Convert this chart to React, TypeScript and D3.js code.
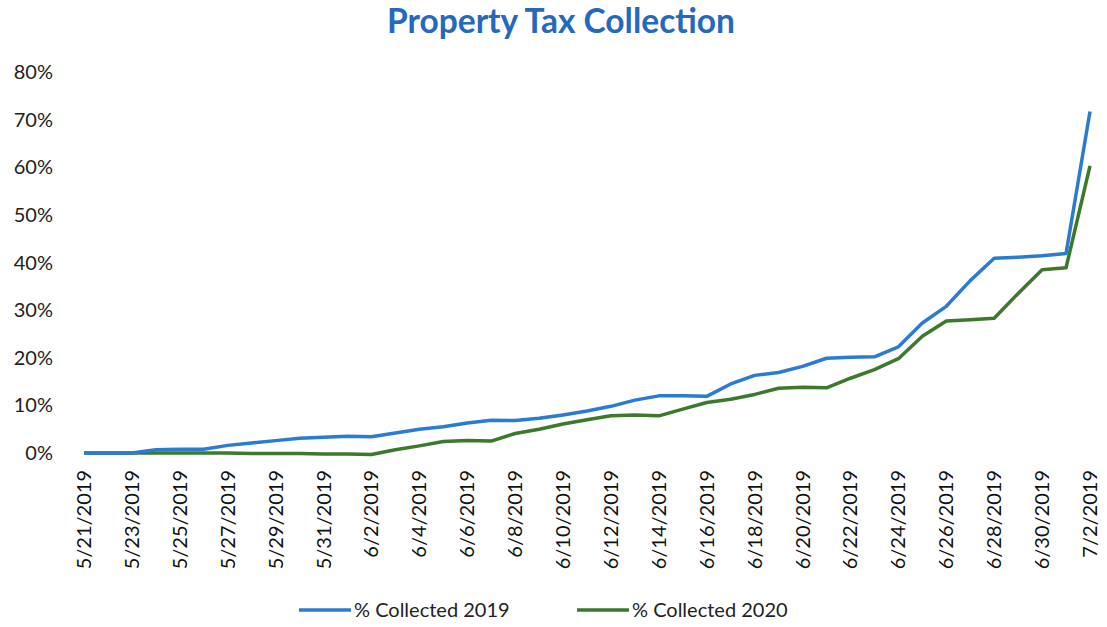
import React from "react";
import * as d3 from "d3";

const dates = [
  "5/21/2019","5/22/2019","5/23/2019","5/24/2019","5/25/2019","5/26/2019","5/27/2019","5/28/2019","5/29/2019","5/30/2019","5/31/2019",
  "6/1/2019","6/2/2019","6/3/2019","6/4/2019","6/5/2019","6/6/2019","6/7/2019","6/8/2019","6/9/2019","6/10/2019",
  "6/11/2019","6/12/2019","6/13/2019","6/14/2019","6/15/2019","6/16/2019","6/17/2019","6/18/2019","6/19/2019","6/20/2019",
  "6/21/2019","6/22/2019","6/23/2019","6/24/2019","6/25/2019","6/26/2019","6/27/2019","6/28/2019","6/29/2019","6/30/2019",
  "7/1/2019","7/2/2019",
];

const collected2019 = [
  0, 0, 0, 0.7, 0.8, 0.8, 1.6, 2.1, 2.6, 3.1, 3.3,
  3.5, 3.4, 4.2, 5.0, 5.5, 6.3, 6.9, 6.8, 7.3, 8.0,
  8.8, 9.8, 11.1, 12.0, 12.0, 11.9, 14.5, 16.3, 16.9, 18.2,
  19.9, 20.1, 20.2, 22.3, 27.3, 30.8, 36.2, 40.9, 41.1, 41.4,
  41.9, 71.7,
];

const collected2020 = [
  0, 0, 0, 0, 0, 0, 0, -0.1, -0.1, -0.1, -0.2,
  -0.2, -0.3, 0.7, 1.5, 2.4, 2.6, 2.5, 4.1, 5.0, 6.1,
  7.0, 7.8, 8.0, 7.8, 9.2, 10.6, 11.3, 12.3, 13.6, 13.8,
  13.7, 15.7, 17.5, 19.8, 24.5, 27.7, 28.0, 28.3, 33.5, 38.5,
  38.9, 60.3,
];

const yTicks = [0, 10, 20, 30, 40, 50, 60, 70, 80];
const seriesNames = ["% Collected 2019", "% Collected 2020"];

const W = 1107;
const H = 627;
const BLUE = "#2b7bd0";
const GREEN = "#3b7a2a";
const FONT = "Lato, 'Open Sans', sans-serif";

export default function App() {
  const x = d3.scalePoint<string>().domain(dates).range([84, 1090]);
  const y = d3.scaleLinear().domain([0, 80]).range([453, 72]);
  const line = d3
    .line<number>()
    .x((_, i) => x(dates[i]) as number)
    .y((v) => y(v));

  const tickDates = dates.filter((_, i) => i % 2 === 0);

  return (
    <svg
      width={W}
      height={H}
      style={{ position: "absolute", left: 0, top: 0, background: "#fff" }}
      fontFamily={FONT}
    >
      <text x={561} y={33} textAnchor="middle" fontSize={33.5} fontWeight="bold" fill="#2469bb">
        Property Tax Collection
      </text>

      {yTicks.map((t) => (
        <text key={t} x={53} y={y(t)} dy="0.35em" textAnchor="end" fontSize={20} fill="#222">
          {t}%
        </text>
      ))}

      {tickDates.map((d) => (
        <text
          key={d}
          transform={`translate(${x(d)},470) rotate(-90)`}
          textAnchor="end"
          dy="0.35em"
          fontSize={20}
          fill="#111"
        >
          {d}
        </text>
      ))}

      <path d={line(collected2020) || ""} fill="none" stroke={GREEN} strokeWidth={3.5} strokeLinejoin="round" />
      <path d={line(collected2019) || ""} fill="none" stroke={BLUE} strokeWidth={3.5} strokeLinejoin="round" />

      <g>
        <line x1={299} x2={351} y1={610} y2={610} stroke={BLUE} strokeWidth={3.5} />
        <text x={354} y={610} dy="0.35em" fontSize={20} fill="#222">{seriesNames[0]}</text>
        <line x1={577} x2={629} y1={610} y2={610} stroke={GREEN} strokeWidth={3.5} />
        <text x={632} y={610} dy="0.35em" fontSize={20} fill="#222">{seriesNames[1]}</text>
      </g>
    </svg>
  );
}
